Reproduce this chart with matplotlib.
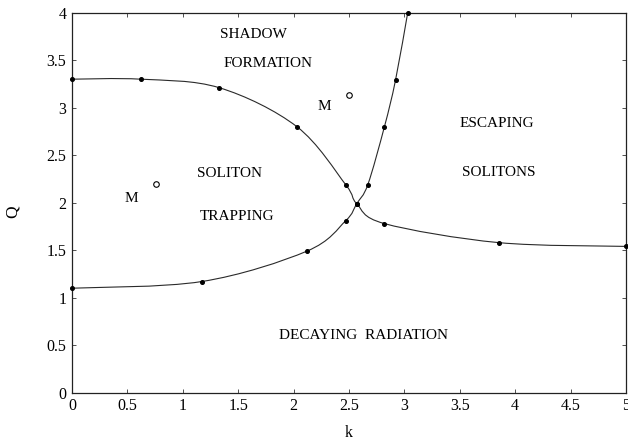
import matplotlib
matplotlib.use("Agg")
import matplotlib.pyplot as plt
import numpy as np
from matplotlib.path import Path
from matplotlib.patches import PathPatch

# Boundary between shadow formation / soliton trapping and the escaping region
upper_k = [0.0, 0.62, 1.33, 2.03, 2.47, 2.57, 2.82, 3.85, 5.0]
upper_q = [3.30, 3.30, 3.21, 2.80, 2.19, 1.99, 1.78, 1.58, 1.54]

# Boundary between decaying radiation and the soliton regions
lower_k = [0.0, 1.17, 2.12, 2.47, 2.57, 2.67, 2.82, 2.92, 3.03]
lower_q = [1.10, 1.17, 1.49, 1.81, 1.99, 2.19, 2.80, 3.29, 4.0]

# Marked points "M"
m_k = [0.76, 2.50]
m_q = [2.20, 3.13]
m_label_k = [0.54, 2.28]
m_label_q = [2.04, 3.01]

# Region labels
region_text = ["SHADOW", "FORMATION", "SOLITON", "TRAPPING",
               "ESCAPING", "SOLITONS", "DECAYING  RADIATION"]
region_k = [1.64, 1.77, 1.42, 1.49, 3.83, 3.85, 2.63]
region_q = [3.77, 3.47, 2.31, 1.85, 2.83, 2.32, 0.60]

xticks = [0, 0.5, 1, 1.5, 2, 2.5, 3, 3.5, 4, 4.5, 5]
yticks = [0, 0.5, 1, 1.5, 2, 2.5, 3, 3.5, 4]

plt.rcParams['font.family'] = ['Liberation Serif', 'DejaVu Serif']


def smooth_path(xs, ys):
    # Catmull-Rom through the points, turned into cubic Bezier segments
    pts = np.column_stack([xs, ys]).astype(float)
    verts = [pts[0]]
    codes = [Path.MOVETO]
    n = len(pts)
    for i in range(n - 1):
        p0 = pts[i - 1] if i > 0 else pts[i]
        p1 = pts[i]
        p2 = pts[i + 1]
        p3 = pts[i + 2] if i + 2 < n else pts[i + 1]
        c1 = p1 + (p2 - p0) / 6.0
        c2 = p2 - (p3 - p1) / 6.0
        verts += [c1, c2, p2]
        codes += [Path.CURVE4] * 3
    return Path(verts, codes)


fig = plt.figure(figsize=(6.28, 4.48), dpi=100)
ax = fig.add_axes([0.1146, 0.1234, 0.8822, 0.8483])

line_color = '#2a2a2a'
for xs, ys in [(upper_k, upper_q), (lower_k, lower_q)]:
    ax.add_patch(PathPatch(smooth_path(xs, ys), facecolor='none',
                           edgecolor=line_color, linewidth=0.8,
                           clip_on=False, zorder=3))
    ax.plot(xs, ys, 'o', color='black', markersize=2.6, clip_on=False,
            zorder=4)

ax.plot(m_k, m_q, 'o', markerfacecolor='white', markeredgecolor='black',
        markersize=4, markeredgewidth=0.8, zorder=4)
for x, y in zip(m_label_k, m_label_q):
    ax.text(x, y, "M", ha='center', va='center', fontsize=11)

for t, x, y in zip(region_text, region_k, region_q):
    ax.text(x, y, t, ha='center', va='center', fontsize=11)

ax.set_xlim(0, 5)
ax.set_ylim(0, 4)
ax.set_xticks(xticks)
ax.set_xticklabels([f"{v:g}" for v in xticks])
ax.set_yticks(yticks)
ax.set_yticklabels([f"{v:g}" for v in yticks])
ax.tick_params(direction='in', length=3, width=0.6, top=True, right=True,
               labelsize=11.5, pad=4, color='#333333')
for s in ax.spines.values():
    s.set_linewidth(0.9)
    s.set_color('#222222')

ax.set_xlabel("k", fontsize=11.5, va='center', ha='center')
ax.set_ylabel("Q", fontsize=12.5, va='center', ha='center')
ax.xaxis.set_label_coords(0.5, -0.105)
ax.yaxis.set_label_coords(-0.106, 0.476)

fig.savefig("out.png", dpi=100)
